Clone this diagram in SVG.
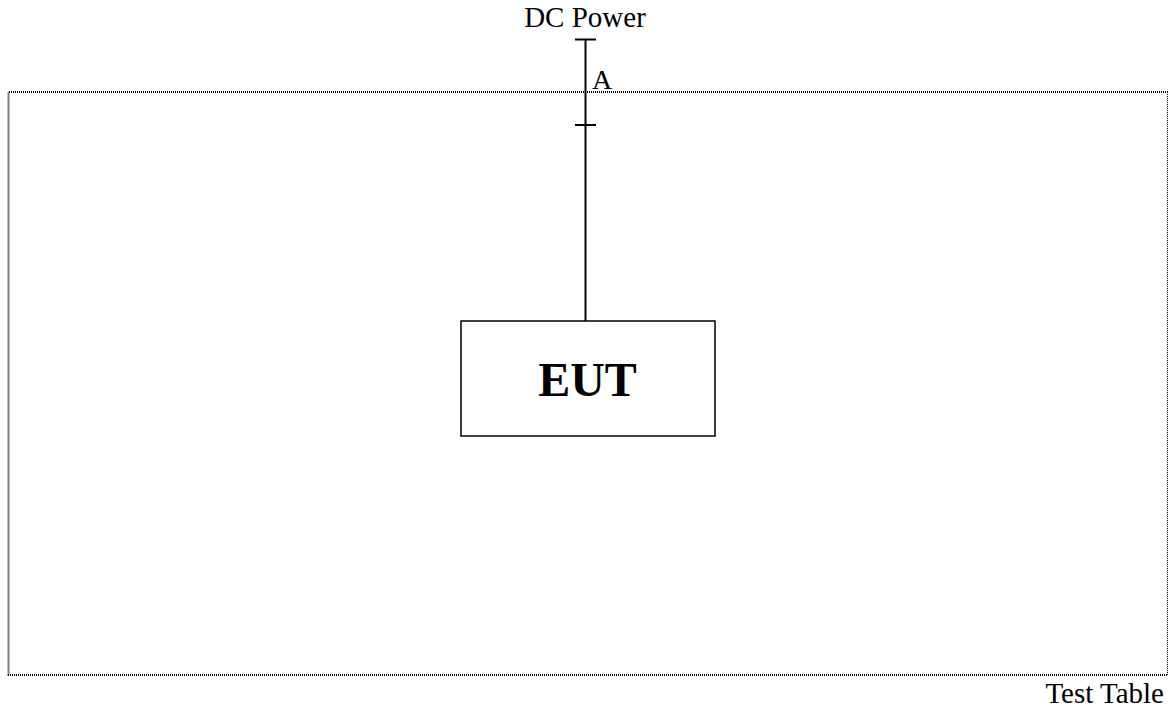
<svg xmlns="http://www.w3.org/2000/svg" width="1169" height="709" viewBox="0 0 1169 709">
<style>
.t{font-family:"Liberation Serif","Times New Roman",serif;fill:#000}
.ln{stroke:#000;stroke-width:2;fill:none}
.dot{stroke:#000;fill:none;stroke-dasharray:1 1}
</style>
<rect width="1169" height="709" fill="#fff"/>
<g id="table">
<path class="dot" d="M1168 92 H8.5 V675 H1168" stroke-width="2"/>
<line class="dot" x1="1167.5" y1="92" x2="1167.5" y2="675" stroke-width="1" stroke="#555"/>
<text class="t" x="1164" y="703" font-size="29" text-anchor="end">Test Table</text>
</g>
<g id="dcpower">
<text class="t" x="585" y="27" font-size="29" text-anchor="middle">DC Power</text>
</g>
<g id="connectors">
<line class="ln" x1="585.5" y1="39" x2="585.5" y2="321"/>
<line class="ln" x1="575" y1="39.5" x2="596" y2="39.5"/>
<line class="ln" x1="575" y1="125" x2="596" y2="125"/>
<text class="t" x="592" y="89" font-size="28">A</text>
</g>
<g id="eut">
<rect x="461" y="321" width="254" height="115" fill="#fff" stroke="#000" stroke-width="1.5"/>
<text class="t" x="587.5" y="396" font-size="48" font-weight="bold" text-anchor="middle">EUT</text>
</g>
</svg>
